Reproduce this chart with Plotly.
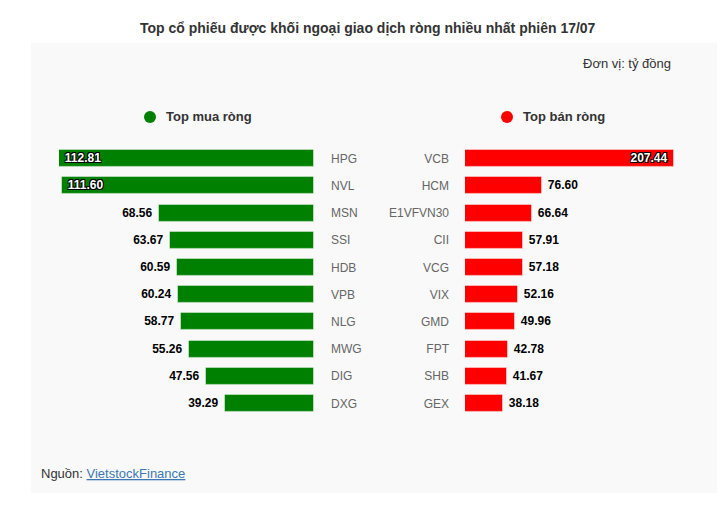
import plotly.graph_objects as go

W, H = 722, 520

title_text = "Top cổ phiếu được khối ngoại giao dịch ròng nhiều nhất phiên 17/07"
unit_text = "Đơn vị: tỷ đồng"
buy_legend = "Top mua ròng"
sell_legend = "Top bán ròng"

buy_tickers = ["HPG", "NVL", "MSN", "SSI", "HDB", "VPB", "NLG", "MWG", "DIG", "DXG"]
buy_values = [112.81, 111.60, 68.56, 63.67, 60.59, 60.24, 58.77, 55.26, 47.56, 39.29]

sell_tickers = ["VCB", "HCM", "E1VFVN30", "CII", "VCG", "VIX", "GMD", "FPT", "SHB", "GEX"]
sell_values = [207.44, 76.60, 66.64, 57.91, 57.18, 52.16, 49.96, 42.78, 41.67, 38.18]

GREEN = "#008000"
RED = "#ff0000"
FONT = "Liberation Sans, Arial, sans-serif"


def px(x):
    return x / W


def py(y):
    return 1 - y / H


def positions(vals):
    m = max(vals)
    return ["inside" if v > 0.85 * m else "outside" for v in vals]


def labels(vals):
    return ["\u00a0" + f"{v:.2f}" + "\u00a0" for v in vals]


row_top, row_bot = 158.5, 403.5
step = (row_bot - row_top) / (len(buy_values) - 1)
ydom = [py(row_bot + step / 2), py(row_top - step / 2)]
bar_w = 17 / step

shadow = "1px 1px 0 #000, -1px -1px 0 #000, 1px -1px 0 #000, -1px 1px 0 #000"

fig = go.Figure()
fig.add_trace(go.Bar(
    x=buy_values, y=buy_tickers, orientation="h",
    marker=dict(color=GREEN, line=dict(color="rgba(255,255,255,0.45)", width=1)),
    width=bar_w,
    text=labels(buy_values),
    textposition=positions(buy_values),
    insidetextanchor="end",
    textfont=dict(family=FONT, size=12, color="#000", weight="bold"),
    insidetextfont=dict(family=FONT, size=12, color="#fff", weight="bold", shadow=shadow),
    outsidetextfont=dict(family=FONT, size=12, color="#000", weight="bold"),
    constraintext="none", cliponaxis=False,
    xaxis="x", yaxis="y", showlegend=False, hoverinfo="skip",
))
fig.add_trace(go.Bar(
    x=sell_values, y=sell_tickers, orientation="h",
    marker=dict(color=RED, line=dict(color="rgba(255,255,255,0.45)", width=1)),
    width=bar_w,
    text=labels(sell_values),
    textposition=positions(sell_values),
    insidetextanchor="end",
    textfont=dict(family=FONT, size=12, color="#000", weight="bold"),
    insidetextfont=dict(family=FONT, size=12, color="#fff", weight="bold", shadow=shadow),
    outsidetextfont=dict(family=FONT, size=12, color="#000", weight="bold"),
    constraintext="none", cliponaxis=False,
    xaxis="x2", yaxis="y2", showlegend=False, hoverinfo="skip",
))

axis_common = dict(showgrid=False, zeroline=False, showline=False, ticks="")

fig.update_layout(
    width=W, height=H,
    margin=dict(l=0, r=0, t=0, b=0),
    paper_bgcolor="#ffffff", plot_bgcolor="rgba(0,0,0,0)",
    font=dict(family=FONT, color="#333"),
    bargap=0,
    xaxis=dict(domain=[px(59), px(314)], range=[max(buy_values), 0],
               showticklabels=False, anchor="y", **axis_common),
    yaxis=dict(domain=ydom, autorange="reversed", side="right", anchor="x",
               tickfont=dict(family=FONT, size=12, color="#666"),
               ticklabelstandoff=16, **axis_common),
    xaxis2=dict(domain=[px(465), px(674)], range=[0, max(sell_values)],
                showticklabels=False, anchor="y2", **axis_common),
    yaxis2=dict(domain=ydom, autorange="reversed", side="left", anchor="x2",
                tickfont=dict(family=FONT, size=12, color="#666"),
                ticklabelstandoff=15, **axis_common),
    shapes=[
        dict(type="rect", xref="paper", yref="paper", layer="below",
             x0=px(31), x1=px(717), y0=py(493), y1=py(42.5),
             fillcolor="#f9f9f9", line=dict(width=0)),
        dict(type="circle", xref="paper", yref="paper",
             xsizemode="pixel", ysizemode="pixel",
             xanchor=px(150), yanchor=py(117),
             x0=-6, x1=6, y0=-6, y1=6,
             fillcolor=GREEN, line=dict(width=0)),
        dict(type="circle", xref="paper", yref="paper",
             xsizemode="pixel", ysizemode="pixel",
             xanchor=px(507), yanchor=py(117),
             x0=-6, x1=6, y0=-6, y1=6,
             fillcolor=RED, line=dict(width=0)),
    ],
    annotations=[
        dict(text=f"<b>{title_text}</b>", xref="paper", yref="paper",
             x=px(368), y=py(28), xanchor="center", yanchor="middle",
             showarrow=False, font=dict(family=FONT, size=14, color="#333")),
        dict(text=unit_text, xref="paper", yref="paper",
             x=px(673), y=py(63), xanchor="right", yanchor="middle",
             showarrow=False, font=dict(family=FONT, size=13, color="#333")),
        dict(text=f"<b>{buy_legend}</b>", xref="paper", yref="paper",
             x=px(164), y=py(117), xanchor="left", yanchor="middle",
             showarrow=False, font=dict(family=FONT, size=13, color="#333")),
        dict(text=f"<b>{sell_legend}</b>", xref="paper", yref="paper",
             x=px(521), y=py(117), xanchor="left", yanchor="middle",
             showarrow=False, font=dict(family=FONT, size=13, color="#333")),
        dict(text="Nguồn: <span style='color:#3c78b4'><u>VietstockFinance</u></span>",
             xref="paper", yref="paper",
             x=px(39), y=py(473), xanchor="left", yanchor="middle",
             showarrow=False, font=dict(family=FONT, size=13, color="#333")),
    ],
)

fig.write_html("out.html")
